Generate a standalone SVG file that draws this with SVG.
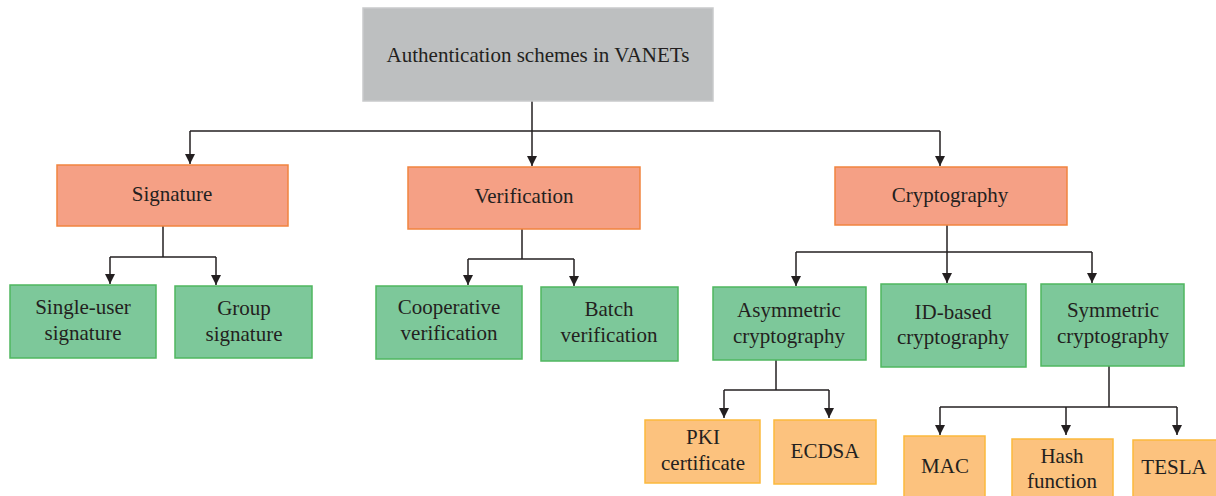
<svg xmlns="http://www.w3.org/2000/svg" width="1216" height="496" viewBox="0 0 1216 496">
  <style>
    text { font-family: 'Liberation Serif', 'DejaVu Serif', serif; font-size: 21px; fill: #231f20; text-anchor: middle; }
    .root { fill: #bdbfc0; stroke: #c9cacb; stroke-width: 1.5; }
    .cat { fill: #f5a085; stroke: #f1843f; stroke-width: 1.5; }
    .sub { fill: #7dc89a; stroke: #4fb75f; stroke-width: 1.5; }
    .leaf { fill: #fcc27e; stroke: #fbb93d; stroke-width: 1.5; }
    .edge { fill: none; stroke: #231f20; stroke-width: 1.5; }
  </style>
  <defs>
    <marker id="arrow" viewBox="0 0 10 10" refX="10" refY="5" markerWidth="10" markerHeight="10" markerUnits="userSpaceOnUse" orient="auto">
      <path d="M0,0 L10,5 L0,10 Z" fill="#231f20"/>
    </marker>
  </defs>
  <rect width="1216" height="496" fill="#ffffff"/>

  <!-- connectors -->
  <g id="connectors">
    <path class="edge" d="M532,101 V166" marker-end="url(#arrow)"/>
    <path class="edge" d="M190,131 H940"/>
    <path class="edge" d="M190,131 V164" marker-end="url(#arrow)"/>
    <path class="edge" d="M940,131 V166" marker-end="url(#arrow)"/>

    <path class="edge" d="M163,226 V257"/>
    <path class="edge" d="M110,257 H216"/>
    <path class="edge" d="M110,257 V284" marker-end="url(#arrow)"/>
    <path class="edge" d="M216,257 V285" marker-end="url(#arrow)"/>

    <path class="edge" d="M522,229 V259"/>
    <path class="edge" d="M468,259 H574"/>
    <path class="edge" d="M468,259 V285" marker-end="url(#arrow)"/>
    <path class="edge" d="M574,259 V286" marker-end="url(#arrow)"/>

    <path class="edge" d="M947,225 V252"/>
    <path class="edge" d="M796,252 H1092"/>
    <path class="edge" d="M796,252 V286" marker-end="url(#arrow)"/>
    <path class="edge" d="M947,252 V283" marker-end="url(#arrow)"/>
    <path class="edge" d="M1092,252 V283" marker-end="url(#arrow)"/>

    <path class="edge" d="M776,360 V390"/>
    <path class="edge" d="M724,390 H829"/>
    <path class="edge" d="M724,390 V418" marker-end="url(#arrow)"/>
    <path class="edge" d="M829,390 V418" marker-end="url(#arrow)"/>

    <path class="edge" d="M1109,366 V407"/>
    <path class="edge" d="M940,407 H1177"/>
    <path class="edge" d="M940,407 V435" marker-end="url(#arrow)"/>
    <path class="edge" d="M1066,407 V435" marker-end="url(#arrow)"/>
    <path class="edge" d="M1177,407 V435" marker-end="url(#arrow)"/>
  </g>

  <!-- root -->
  <g id="root">
    <rect class="root" x="363" y="8" width="350" height="93"/>
    <text x="538" y="62">Authentication schemes in VANETs</text>
  </g>

  <!-- categories -->
  <g id="signature">
    <rect class="cat" x="57" y="165" width="231" height="61"/>
    <text x="172" y="201">Signature</text>
  </g>
  <g id="verification">
    <rect class="cat" x="408" y="167" width="232" height="62"/>
    <text x="524" y="203">Verification</text>
  </g>
  <g id="cryptography">
    <rect class="cat" x="835" y="167" width="232" height="58"/>
    <text x="950" y="202">Cryptography</text>
  </g>

  <!-- second level -->
  <g id="single-user-signature">
    <rect class="sub" x="10" y="285" width="146" height="73"/>
    <text x="83" y="314">Single-user</text>
    <text x="83" y="340">signature</text>
  </g>
  <g id="group-signature">
    <rect class="sub" x="175" y="286" width="137" height="72"/>
    <text x="244" y="315">Group</text>
    <text x="244" y="341">signature</text>
  </g>
  <g id="cooperative-verification">
    <rect class="sub" x="376" y="286" width="146" height="73"/>
    <text x="449" y="314">Cooperative</text>
    <text x="449" y="340">verification</text>
  </g>
  <g id="batch-verification">
    <rect class="sub" x="541" y="287" width="137" height="74"/>
    <text x="609" y="316">Batch</text>
    <text x="609" y="342">verification</text>
  </g>
  <g id="asymmetric-cryptography">
    <rect class="sub" x="713" y="287" width="153" height="73"/>
    <text x="789" y="317">Asymmetric</text>
    <text x="789" y="343">cryptography</text>
  </g>
  <g id="id-based-cryptography">
    <rect class="sub" x="881" y="284" width="145" height="83"/>
    <text x="953" y="319">ID-based</text>
    <text x="953" y="344">cryptography</text>
  </g>
  <g id="symmetric-cryptography">
    <rect class="sub" x="1041" y="284" width="143" height="82"/>
    <text x="1113" y="317">Symmetric</text>
    <text x="1113" y="343">cryptography</text>
  </g>

  <!-- leaves -->
  <g id="pki-certificate">
    <rect class="leaf" x="645" y="420" width="115" height="63"/>
    <text x="703" y="444">PKI</text>
    <text x="703" y="470">certificate</text>
  </g>
  <g id="ecdsa">
    <rect class="leaf" x="774" y="420" width="102" height="64"/>
    <text x="825" y="458">ECDSA</text>
  </g>
  <g id="mac">
    <rect class="leaf" x="904" y="436" width="81" height="64"/>
    <text x="945" y="473">MAC</text>
  </g>
  <g id="hash-function">
    <rect class="leaf" x="1012" y="439" width="101" height="61"/>
    <text x="1062" y="463">Hash</text>
    <text x="1062" y="488">function</text>
  </g>
  <g id="tesla">
    <rect class="leaf" x="1133" y="440" width="86" height="60"/>
    <text x="1174" y="474">TESLA</text>
  </g>
</svg>
